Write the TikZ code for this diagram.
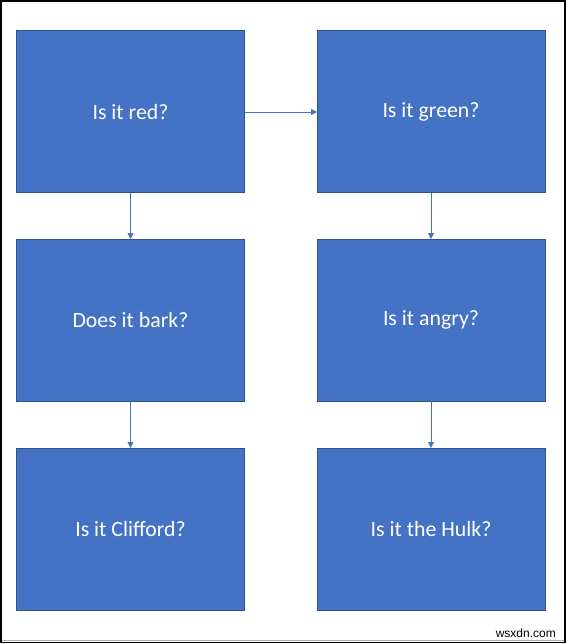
\documentclass[tikz,border=0pt]{standalone}
\usepackage{fontspec}
\setmainfont{Carlito}
\newfontfamily\wmfont{Liberation Sans}
\usetikzlibrary{arrows.meta}
\definecolor{boxblue}{HTML}{4472C4}
\definecolor{boxedge}{HTML}{2F528F}
\definecolor{arrowblue}{HTML}{4472C4}
\tikzset{
  qbox/.style={draw=boxedge, line width=1pt, fill=boxblue, text=white,
    minimum width=228pt, minimum height=162pt, inner sep=0pt, outer sep=0pt,
    font=\fontsize{21.8}{24}\selectfont},
  conn/.style={draw=arrowblue, line width=0.9pt, -{Triangle[length=6pt,width=6pt]}}
}
\begin{document}
\begin{tikzpicture}[x=1pt,y=-1pt]
\useasboundingbox (0,0) rectangle (568,644);
\fill[white] (0,0) rectangle (568,644);
\draw[black, line width=1.6pt] (0.8,0.8) rectangle (565.2,642.5);
\draw[gray!60, line width=1pt] (1.6,640) -- (564.4,640);
\node[qbox] (red) at (130.5,112) {Is it red?};
\node[qbox] (green) at (431,112) {Is it green?};
\node[qbox] (bark) at (130.5,320) {Does it bark?};
\node[qbox] (angry) at (431,320) {Is it angry?};
\node[qbox] (clifford) at (130.5,529) {Is it Clifford?};
\node[qbox] (hulk) at (431,529) {Is it the Hulk?};
\draw[conn] (red) -- (green);
\draw[conn] (red) -- (bark);
\draw[conn] (bark) -- (clifford);
\draw[conn] (green) -- (angry);
\draw[conn] (angry) -- (hulk);
\node[anchor=base east, inner sep=0pt, font=\wmfont\fontsize{12}{14}\selectfont] (wm) at (556,637) {wsxdn.com};
\end{tikzpicture}
\end{document}
